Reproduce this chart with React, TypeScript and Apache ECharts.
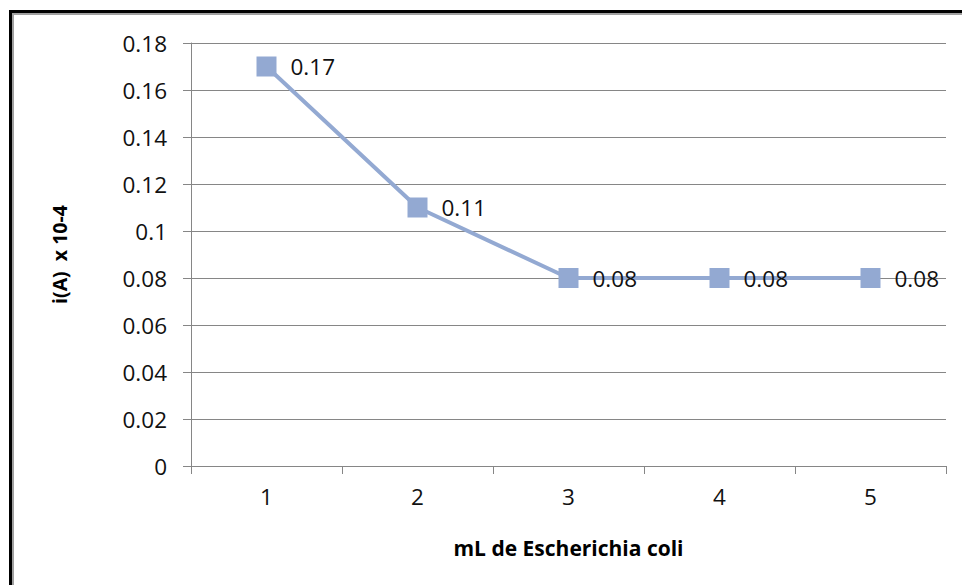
import React, { useEffect, useRef } from "react";
import * as echarts from "echarts";

const categories = ["1", "2", "3", "4", "5"];
const currentValues = [0.17, 0.11, 0.08, 0.08, 0.08];
const yTicks = { min: 0, max: 0.18, interval: 0.02 };
const xTitle = "mL de Escherichia coli";
const yTitle = "i(A)  x 10-4";

const FONT = "'Open Sans', 'Liberation Sans', sans-serif";

export default function App() {
  const ref = useRef<HTMLDivElement>(null);
  useEffect(() => {
    if (!ref.current) return;
    const chart = echarts.init(ref.current, null, { renderer: "svg" });
    chart.setOption({
      animation: false,
      backgroundColor: "#ffffff",
      grid: { left: 191, top: 43, right: 16, bottom: 119, containLabel: false },
      graphic: [
        { type: "line", shape: { x1: 10.5, y1: 10, x2: 10.5, y2: 585 }, style: { stroke: "#000", lineWidth: 3 } },
        { type: "line", shape: { x1: 9, y1: 11.5, x2: 962, y2: 11.5 }, style: { stroke: "#000", lineWidth: 3 } },
        { type: "line", shape: { x1: 13, y1: 13, x2: 13, y2: 585 }, style: { stroke: "#a0a0a0", lineWidth: 2 } },
        { type: "line", shape: { x1: 12, y1: 14, x2: 962, y2: 14 }, style: { stroke: "#a0a0a0", lineWidth: 2 } },
      ],
      xAxis: {
        type: "category",
        data: categories,
        boundaryGap: true,
        name: xTitle,
        nameLocation: "middle",
        nameGap: 71,
        nameTextStyle: { fontFamily: FONT, fontSize: 21, fontWeight: "bold", color: "#000" },
        axisLine: { lineStyle: { color: "#868686", width: 1 } },
        axisTick: { show: true, length: 8, alignWithLabel: false, lineStyle: { color: "#868686" } },
        axisLabel: { fontFamily: FONT, fontSize: 22.5, color: "#111", margin: 19 },
        splitLine: { show: false },
      },
      yAxis: {
        type: "value",
        min: yTicks.min,
        max: yTicks.max,
        interval: yTicks.interval,
        name: yTitle,
        nameLocation: "middle",
        nameGap: 122,
        nameRotate: 90,
        nameTextStyle: { fontFamily: FONT, fontSize: 19.5, fontWeight: "bold", color: "#000" },
        axisLine: { show: true, lineStyle: { color: "#868686", width: 1 } },
        axisTick: { show: true, length: 8, lineStyle: { color: "#868686" } },
        axisLabel: {
          fontFamily: FONT,
          fontSize: 22.5,
          color: "#111",
          margin: 24,
          formatter: (v: number) => String(Math.round(v * 100) / 100),
        },
        splitLine: { show: true, lineStyle: { color: "#868686", width: 1 } },
      },
      series: [
        {
          type: "line",
          data: currentValues,
          symbol: "rect",
          symbolSize: 20,
          itemStyle: { color: "#93A9D2" },
          lineStyle: { color: "#93A9D2", width: 4 },
          label: {
            show: true,
            position: "right",
            distance: 14,
            fontFamily: FONT,
            fontSize: 22.5,
            color: "#111",
          },
        },
      ],
    });
    return () => chart.dispose();
  }, []);
  return (
    <div
      ref={ref}
      style={{ position: "absolute", left: 0, top: 0, width: 962, height: 585 }}
    />
  );
}
